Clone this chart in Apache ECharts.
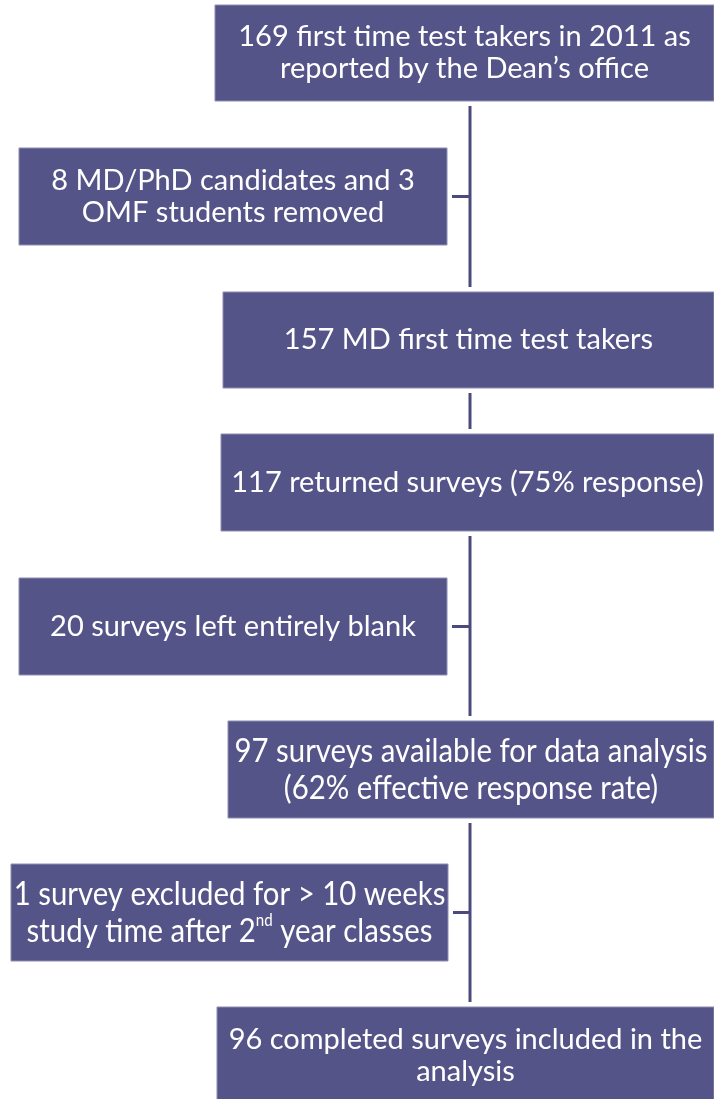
<!DOCTYPE html>
<html>
<head>
<meta charset="utf-8">
<script src="https://cdn.jsdelivr.net/npm/echarts@6/dist/echarts.min.js"></script>
<style>
  html, body { margin: 0; padding: 0; background: #fff; }
  #chart { width: 714px; height: 1099px; }
</style>
</head>
<body>
<div id="chart"></div>
<script>
// flow texts (main column, top to bottom)
var mainSteps = [
    '169 first time test takers in 2011 as\nreported by the Dean\u2019s office',
    '157 MD first time test takers',
    '117 returned surveys (75% response)',
    '97 surveys available for data analysis\n(62% effective response rate)',
    '96 completed surveys included in the\nanalysis'
];
// exclusion texts (side boxes)
var exclusions = [
    '8 MD/PhD candidates and 3\nOMF students removed',
    '20 surveys left entirely blank',
    '1 survey excluded for > 10 weeks\nstudy time after 2{sup|nd} year classes'
];

// layout: [x0, y0, x1, y1, fontSize, squeeze] in page pixels
var mainLayout = [
    [215, 5, 714, 101, 29, 1],
    [223, 292, 714, 388, 29, 1],
    [221, 434, 714, 531, 29, 1],
    [228, 721, 714, 818, 33, 0.89],
    [217, 1007, 714, 1104, 29, 1]
];
var sideLayout = [
    [19, 148, 447, 245, 29, 1],
    [19, 578, 447, 675, 29, 1],
    [11, 864, 448, 961, 33, 0.89]
];
var trunkX = 470, gap = 5;

var boxFill = '#555489', lineColor = '#4b4a7c';
var fontFamily = 'Lato, "Open Sans", sans-serif';

var boxData = [];
mainSteps.forEach(function (t, i) {
    var l = mainLayout[i];
    boxData.push({value: [l[0], l[1], l[2], l[3]], text: t, fs: l[4], sx: l[5]});
});
exclusions.forEach(function (t, i) {
    var l = sideLayout[i];
    boxData.push({value: [l[0], l[1], l[2], l[3]], text: t, fs: l[4], sx: l[5]});
});

// connector segments derived from the box layout
var segData = [];
for (var i = 0; i < mainLayout.length - 1; i++) {
    segData.push([trunkX, mainLayout[i][3] + gap, trunkX, mainLayout[i + 1][1] - gap]);
}
sideLayout.forEach(function (l) {
    var cy = (l[1] + l[3]) / 2;
    segData.push([l[2] + gap, cy, trunkX, cy]);
});

var chart = echarts.init(document.getElementById('chart'));
chart.setOption({
    animation: false,
    grid: {left: 0, right: 0, top: 0, bottom: 0},
    xAxis: {type: 'value', min: 0, max: 714, show: false},
    yAxis: {type: 'value', min: 0, max: 1099, inverse: true, show: false},
    series: [
        {
            type: 'custom',
            coordinateSystem: 'cartesian2d',
            data: segData,
            renderItem: function (params, api) {
                var a = api.coord([api.value(0), api.value(1)]);
                var b = api.coord([api.value(2), api.value(3)]);
                return {
                    type: 'line',
                    shape: {x1: a[0], y1: a[1], x2: b[0], y2: b[1]},
                    style: {stroke: lineColor, lineWidth: 3}
                };
            }
        },
        {
            type: 'custom',
            coordinateSystem: 'cartesian2d',
            clip: false,
            data: boxData,
            renderItem: function (params, api) {
                var d = boxData[params.dataIndex];
                var p0 = api.coord([api.value(0), api.value(1)]);
                var p1 = api.coord([api.value(2), api.value(3)]);
                var lh = Math.round(d.fs * 1.12);
                return {
                    type: 'group',
                    children: [
                        {
                            type: 'rect',
                            shape: {x: p0[0], y: p0[1], width: p1[0] - p0[0], height: p1[1] - p0[1]},
                            style: {fill: boxFill, stroke: '#8e8db3', lineWidth: 1}
                        },
                        {
                            type: 'text',
                            x: (p0[0] + p1[0]) / 2,
                            y: (p0[1] + p1[1]) / 2,
                            scaleX: d.sx,
                            style: {
                                text: d.text,
                                fill: '#fff',
                                fontFamily: fontFamily,
                                fontSize: d.fs,
                                lineHeight: lh,
                                align: 'center',
                                verticalAlign: 'middle',
                                rich: {
                                    sup: {fontSize: 17, fill: '#fff', fontFamily: fontFamily, verticalAlign: 'top', lineHeight: lh}
                                }
                            }
                        }
                    ]
                };
            }
        }
    ]
});
</script>
</body>
</html>
